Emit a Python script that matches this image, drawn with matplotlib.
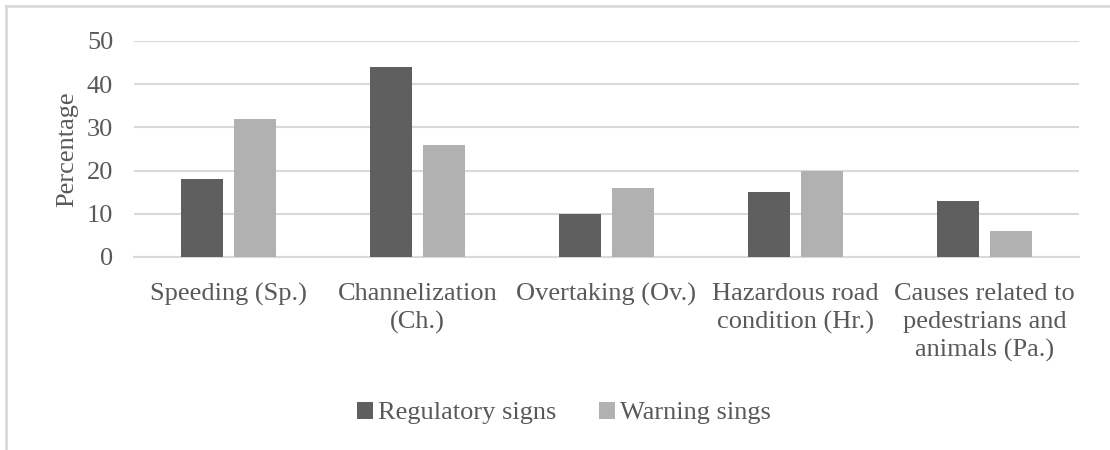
import matplotlib.pyplot as plt
import numpy as np
from matplotlib.lines import Line2D

# ── Data ─────────────────────────────────────────────────────────────────────

categories = [
    "Speeding (Sp.)",
    "Channelization\n(Ch.)",
    "Overtaking (Ov.)",
    "Hazardous road\ncondition (Hr.)",
    "Causes related to\npedestrians and\nanimals (Pa.)",
]
regulatory = [18, 44, 10, 15, 13]
warning = [32, 26, 16, 20, 6]
series_names = ["Regulatory signs", "Warning sings"]
y_ticks = [0, 10, 20, 30, 40, 50]

# ── Style ────────────────────────────────────────────────────────────────────

TEXT = "#595959"
GRID = "#d9d9d9"
DARK = "#5f5f5f"
LIGHT = "#b1b1b1"

plt.rcParams["font.family"] = ["Liberation Serif", "DejaVu Serif"]
plt.rcParams["font.size"] = 19

fig = plt.figure(figsize=(11.1, 4.5), dpi=100)
ax = fig.add_axes([0.1207, 0.429, 0.972 - 0.1207, 0.909 - 0.429])

x = np.arange(len(categories))
width = 0.222
ax.bar(x - 0.14, regulatory, width, color=DARK, label=series_names[0], zorder=3)
ax.bar(x + 0.14, warning, width, color=LIGHT, label=series_names[1], zorder=3)

ax.set_xlim(-0.5, len(categories) - 0.5)
ax.set_ylim(0, 50)
ax.set_yticks(y_ticks)
ax.set_xticks(x)
ax.set_xticklabels(categories, color=TEXT, linespacing=1.33)
ax.tick_params(axis="y", colors=TEXT, length=0, pad=15)
ax.tick_params(axis="x", colors=TEXT, length=0, pad=19)
ax.yaxis.grid(True, color=GRID, linewidth=1.5, zorder=0)
for side in ["top", "right", "left"]:
    ax.spines[side].set_visible(False)
ax.spines["bottom"].set_color(GRID)
ax.spines["bottom"].set_linewidth(1.5)
ax.set_ylabel("Percentage", color=TEXT, labelpad=6)

fig.legend(loc="center", bbox_to_anchor=(0.508, 0.082), ncol=2, frameon=False,
           handlelength=0.6, handleheight=0.6, handletextpad=0.2,
           columnspacing=1.6, labelcolor=TEXT)

# chart frame (left and top edges)
fig.add_artist(Line2D([0.0054, 0.0054], [0, 0.9867], color=GRID, linewidth=2,
                      transform=fig.transFigure))
fig.add_artist(Line2D([0.0054, 1], [0.9867, 0.9867], color=GRID, linewidth=2,
                      transform=fig.transFigure))

fig.savefig("out.png", dpi=100)
